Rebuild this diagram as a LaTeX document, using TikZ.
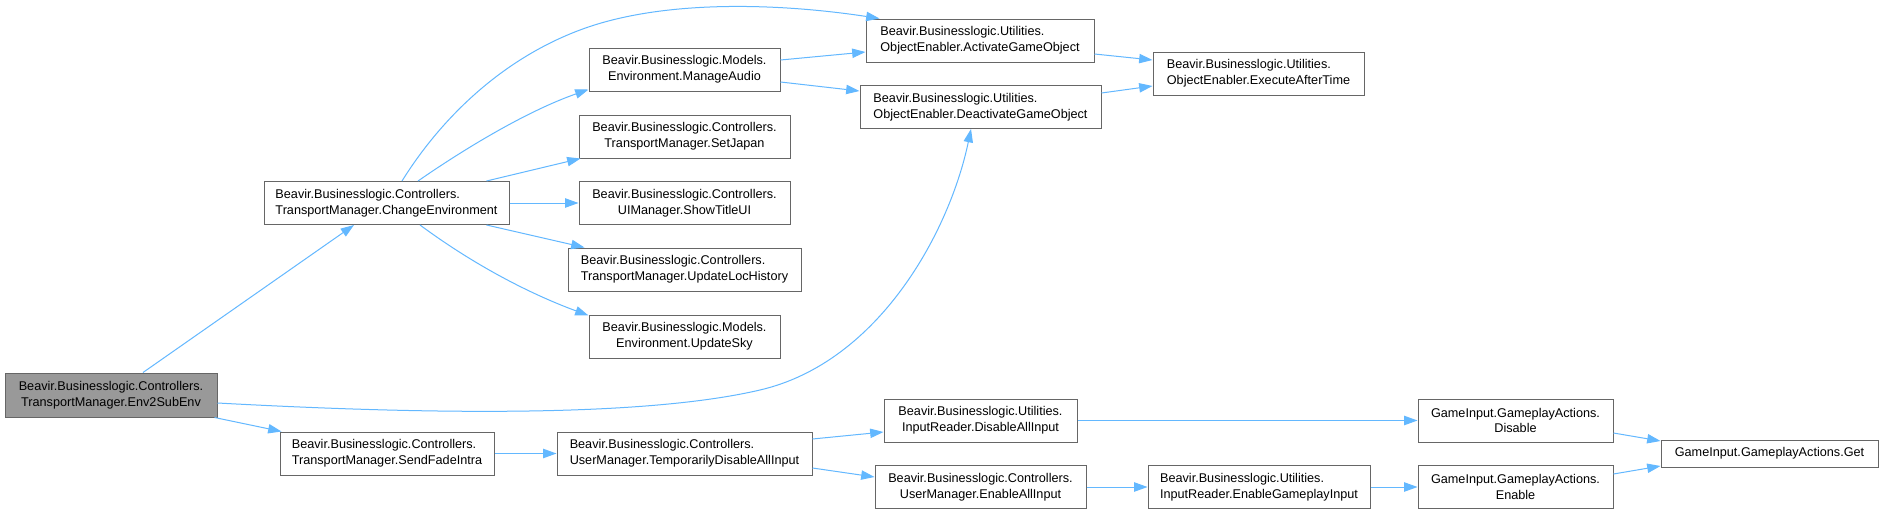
\documentclass[tikz,border=0pt]{standalone}
\usepackage{fontspec}
\setmainfont{Liberation Sans}
\usetikzlibrary{arrows.meta,calc}
\definecolor{edgec}{HTML}{63B8FF}
\definecolor{bordc}{HTML}{666666}
\definecolor{mainfill}{HTML}{999999}
\begin{document}
\begin{tikzpicture}[x=0.75pt,y=-0.75pt,
  font=\fontsize{9.5pt}{11.8pt}\selectfont,
  box/.style={draw=bordc, line width=0.75pt, fill=white, inner sep=0pt, minimum height=32.25pt, align=center},
  lbox/.style={box, align=left},
  conn/.style={draw=edgec, line width=0.75pt, -{Triangle[length=10pt,width=7pt]}}]
\fill[white] (0,0) rectangle (1883,514);
\useasboundingbox (0,0) rectangle (1883,514);

% nodes
\node[box, fill=mainfill, minimum width=159pt, minimum height=33pt] (env) at (111,395) {Beavir.Businesslogic.Controllers.\\TransportManager.Env2SubEnv};
\node[lbox, minimum width=183.75pt] (chg) at (386.5,203) {Beavir.Businesslogic.Controllers.\\TransportManager.ChangeEnvironment};
\node[lbox, minimum width=160.5pt] (sfi) at (387,453.5) {Beavir.Businesslogic.Controllers.\\TransportManager.SendFadeIntra};
\node[lbox, minimum width=171pt] (act) at (980,40.5) {Beavir.Businesslogic.Utilities.\\ObjectEnabler.ActivateGameObject};
\node[box, minimum width=143.25pt] (aud) at (684.5,69.5) {Beavir.Businesslogic.Models.\\Environment.ManageAudio};
\node[lbox, minimum width=180.75pt] (deact) at (980.5,107) {Beavir.Businesslogic.Utilities.\\ObjectEnabler.DeactivateGameObject};
\node[box, minimum width=158.25pt] (jap) at (684.5,136.5) {Beavir.Businesslogic.Controllers.\\TransportManager.SetJapan};
\node[box, minimum width=158.25pt] (ui) at (684.5,203) {Beavir.Businesslogic.Controllers.\\UIManager.ShowTitleUI};
\node[lbox, minimum width=174.75pt] (loc) at (684.5,269.5) {Beavir.Businesslogic.Controllers.\\TransportManager.UpdateLocHistory};
\node[box, minimum width=143.25pt] (sky) at (684.5,336.5) {Beavir.Businesslogic.Models.\\Environment.UpdateSky};
\node[lbox, minimum width=158.25pt] (exe) at (1258.5,73.5) {Beavir.Businesslogic.Utilities.\\ObjectEnabler.ExecuteAfterTime};
\node[lbox, minimum width=191.25pt] (tmp) at (684.5,453.5) {Beavir.Businesslogic.Controllers.\\UserManager.TemporarilyDisableAllInput};
\node[box, minimum width=144.75pt] (dai) at (980.5,420.5) {Beavir.Businesslogic.Utilities.\\InputReader.DisableAllInput};
\node[box, minimum width=158.25pt] (eai) at (980.5,487) {Beavir.Businesslogic.Controllers.\\UserManager.EnableAllInput};
\node[lbox, minimum width=166.5pt] (egi) at (1259,487) {Beavir.Businesslogic.Utilities.\\InputReader.EnableGameplayInput};
\node[box, minimum width=146.25pt] (dis) at (1515.5,420.5) {GameInput.GameplayActions.\\Disable};
\node[box, minimum width=146.25pt] (ena) at (1515.5,487) {GameInput.GameplayActions.\\Enable};
\node[box, minimum width=162.75pt, minimum height=20.25pt] (get) at (1769.5,453.5) {GameInput.GameplayActions.Get};

% connectors
\draw[conn] ($(env.north)+(32,0)$) -- ($(chg.south)+(-32.5,0)$);
\draw[conn] ($(env.east)+(0,8)$) .. controls (420,414) and (640,418) .. (760,390)
  .. controls (880,362) and (950,230) .. ($(deact.south)+(-9.5,0)$);
\draw[conn] ($(env.south east)+(-3,0)$) -- ($(sfi.north west)+(2,0)$);
\draw[conn] (sfi) -- (tmp);

\draw[conn] ($(chg.north)+(15.5,0)$) .. controls (440,120) and (500,60) .. (580,30)
  .. controls (665,-2) and (785,4) .. ($(act.north west)+(14,0)$);
\draw[conn] ($(chg.north)+(31.5,0)$) .. controls (470,145) and (530,110) .. ($(aud.south west)+(0,-2)$);
\draw[conn] ($(chg.north east)+(-23,0)$) -- ($(jap.south west)+(2,0)$);
\draw[conn] (chg) -- (ui);
\draw[conn] ($(chg.south east)+(-23,0)$) -- ($(loc.north west)+(17,0)$);
\draw[conn] ($(chg.south)+(33.5,0)$) .. controls (470,262) and (525,292) .. ($(sky.north west)+(0,1)$);

\draw[conn] ($(aud.east)+(0,-9.5)$) -- ($(act.west)+(0,11.5)$);
\draw[conn] ($(aud.east)+(0,12.5)$) -- ($(deact.west)+(0,-16)$);
\draw[conn] ($(act.east)+(0,13.5)$) -- ($(exe.west)+(0,-13.5)$);
\draw[conn] ($(deact.east)+(0,-14)$) -- ($(exe.west)+(0,12.5)$);

\draw[conn] ($(tmp.east)+(0,-14.5)$) -- ($(dai.west)+(0,11.5)$);
\draw[conn] ($(tmp.east)+(0,14.5)$) -- ($(eai.west)+(0,-10)$);
\draw[conn] (eai) -- (egi);
\draw[conn] (dai) -- (dis);
\draw[conn] (egi) -- (ena);
\draw[conn] ($(dis.east)+(0,12.5)$) -- ($(get.west)+(0,-12.5)$);
\draw[conn] ($(ena.east)+(0,-13)$) -- ($(get.west)+(0,12.5)$);
\end{tikzpicture}
\end{document}
